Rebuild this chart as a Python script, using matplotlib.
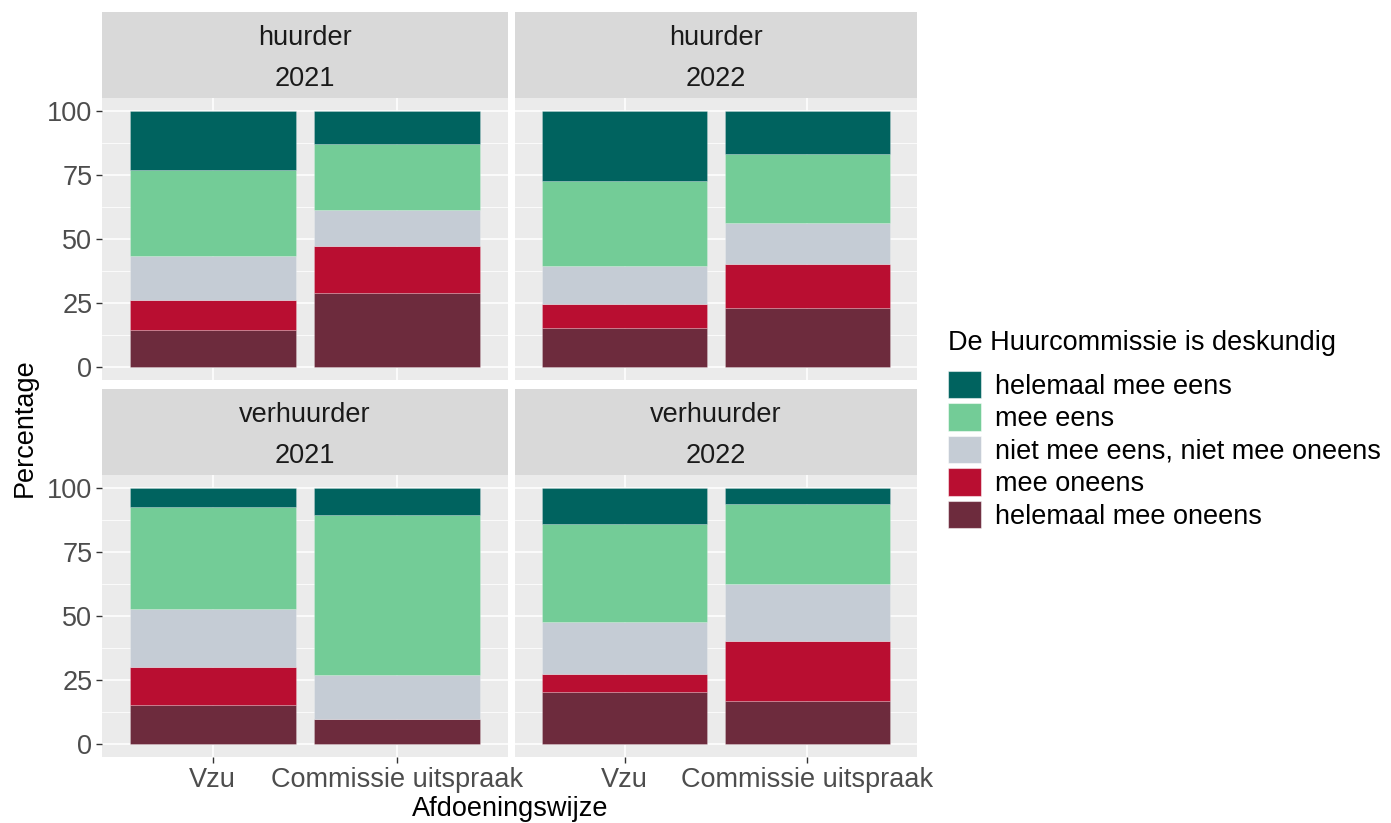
import matplotlib
matplotlib.use("Agg")
import matplotlib.pyplot as plt
from matplotlib.patches import Patch
import numpy as np

plt.rcParams['font.family'] = ['Liberation Sans', 'DejaVu Sans']

categories = ["Vzu", "Commissie uitspraak"]
levels = ["helemaal mee oneens", "mee oneens", "niet mee eens, niet mee oneens",
          "mee eens", "helemaal mee eens"]
colors = {"helemaal mee eens": "#00635F", "mee eens": "#73CC97",
          "niet mee eens, niet mee oneens": "#C5CCD5", "mee oneens": "#B90E31",
          "helemaal mee oneens": "#6D2B3D"}

# values per panel, in order of levels (bottom -> top), for [Vzu, Commissie uitspraak]
huurder_2021 = {"helemaal mee oneens": [14.4, 28.8], "mee oneens": [12.0, 18.5],
                "niet mee eens, niet mee oneens": [17.1, 13.9], "mee eens": [33.5, 25.9],
                "helemaal mee eens": [23.0, 12.9]}
huurder_2022 = {"helemaal mee oneens": [15.3, 23.0], "mee oneens": [9.5, 17.1],
                "niet mee eens, niet mee oneens": [14.8, 16.0], "mee eens": [33.1, 27.0],
                "helemaal mee eens": [27.3, 16.9]}
verhuurder_2021 = {"helemaal mee oneens": [15.3, 9.8], "mee oneens": [14.8, 0.0],
                   "niet mee eens, niet mee oneens": [22.6, 17.1], "mee eens": [40.0, 62.5],
                   "helemaal mee eens": [7.3, 10.6]}
verhuurder_2022 = {"helemaal mee oneens": [20.2, 16.8], "mee oneens": [7.2, 23.4],
                   "niet mee eens, niet mee oneens": [20.3, 22.4], "mee eens": [38.0, 31.1],
                   "helemaal mee eens": [14.3, 6.3]}

panels = [("huurder", "2021", huurder_2021), ("huurder", "2022", huurder_2022),
          ("verhuurder", "2021", verhuurder_2021), ("verhuurder", "2022", verhuurder_2022)]

FS = 19.5
W, H = 1391, 823
fig = plt.figure(figsize=(W / 100, H / 100), dpi=100)
fig.patch.set_facecolor("white")

def px_axes(x0, y0, x1, y1):
    return fig.add_axes([x0 / W, 1 - y1 / H, (x1 - x0) / W, (y1 - y0) / H])

col_x = [(102, 508), (515, 917)]
row_strip = [(12, 98), (389, 475)]
row_panel = [(98, 380), (475, 757)]

for i, (who, yr, data) in enumerate(panels):
    r, c = divmod(i, 2)
    x0, x1 = col_x[c]
    s0, s1 = row_strip[r]
    p0, p1 = row_panel[r]
    # strip
    sax = px_axes(x0, s0, x1, s1)
    sax.set_facecolor("#D9D9D9")
    sax.set_xticks([]); sax.set_yticks([])
    for sp in sax.spines.values():
        sp.set_visible(False)
    sax.text(0.5, 0.70, who, ha="center", va="center", fontsize=FS, color="#1A1A1A",
             transform=sax.transAxes)
    sax.text(0.5, 0.22, yr, ha="center", va="center", fontsize=FS, color="#1A1A1A",
             transform=sax.transAxes)
    # panel
    ax = px_axes(x0, p0, x1, p1)
    ax.set_facecolor("#EBEBEB")
    for sp in ax.spines.values():
        sp.set_visible(False)
    ax.set_xlim(0.4, 2.6)
    ax.set_ylim(-5, 105)
    ax.set_yticks([0, 25, 50, 75, 100])
    ax.set_yticks([12.5, 37.5, 62.5, 87.5], minor=True)
    ax.set_xticks([1, 2])
    ax.grid(which="major", color="white", linewidth=1.1)
    ax.grid(which="minor", axis="y", color="white", linewidth=0.55)
    ax.set_axisbelow(True)
    xpos = np.arange(1, len(categories) + 1)
    bottom = np.zeros(len(categories))
    for lev in levels:
        vals = np.array(data[lev])
        ax.bar(xpos, vals, width=0.9, bottom=bottom, color=colors[lev],
               edgecolor=(1, 1, 1, 0.25), linewidth=0.6)
        bottom += vals
    ax.tick_params(axis="both", which="major", length=4, color="#333333", width=1.0,
                   labelsize=FS, labelcolor="#4D4D4D", pad=3)
    ax.tick_params(axis="both", which="minor", length=0)
    if c == 0:
        ax.set_yticklabels(["0", "25", "50", "75", "100"])
    else:
        ax.set_yticklabels([])
        ax.tick_params(axis="y", length=0)
    if r == 1:
        ax.set_xticklabels(categories)
    else:
        ax.set_xticklabels([])
        ax.tick_params(axis="x", length=0)

fig.text(25 / W, 1 - 428 / H, "Percentage", rotation=90, ha="center", va="center",
         fontsize=FS, color="black")
fig.text(510 / W, 1 - 809 / H, "Afdoeningswijze", ha="center", va="center",
         fontsize=FS, color="black")

# legend
fig.text(948 / W, 1 - 343 / H, "De Huurcommissie is deskundig", ha="left",
         va="center", fontsize=FS, color="black")
handles = [Patch(facecolor=colors[l], edgecolor=(1, 1, 1, 0.5), linewidth=0.8)
           for l in levels[::-1]]
leg = fig.legend(handles, levels[::-1],
                 loc="upper left", bbox_to_anchor=(948 / W, 1 - 371 / H),
                 frameon=False, fontsize=FS,
                 handlelength=1.22, handleheight=1.17, handletextpad=0.5,
                 labelspacing=0.135, borderaxespad=0, borderpad=0)

fig.savefig("out.png", dpi=100, facecolor="white")
